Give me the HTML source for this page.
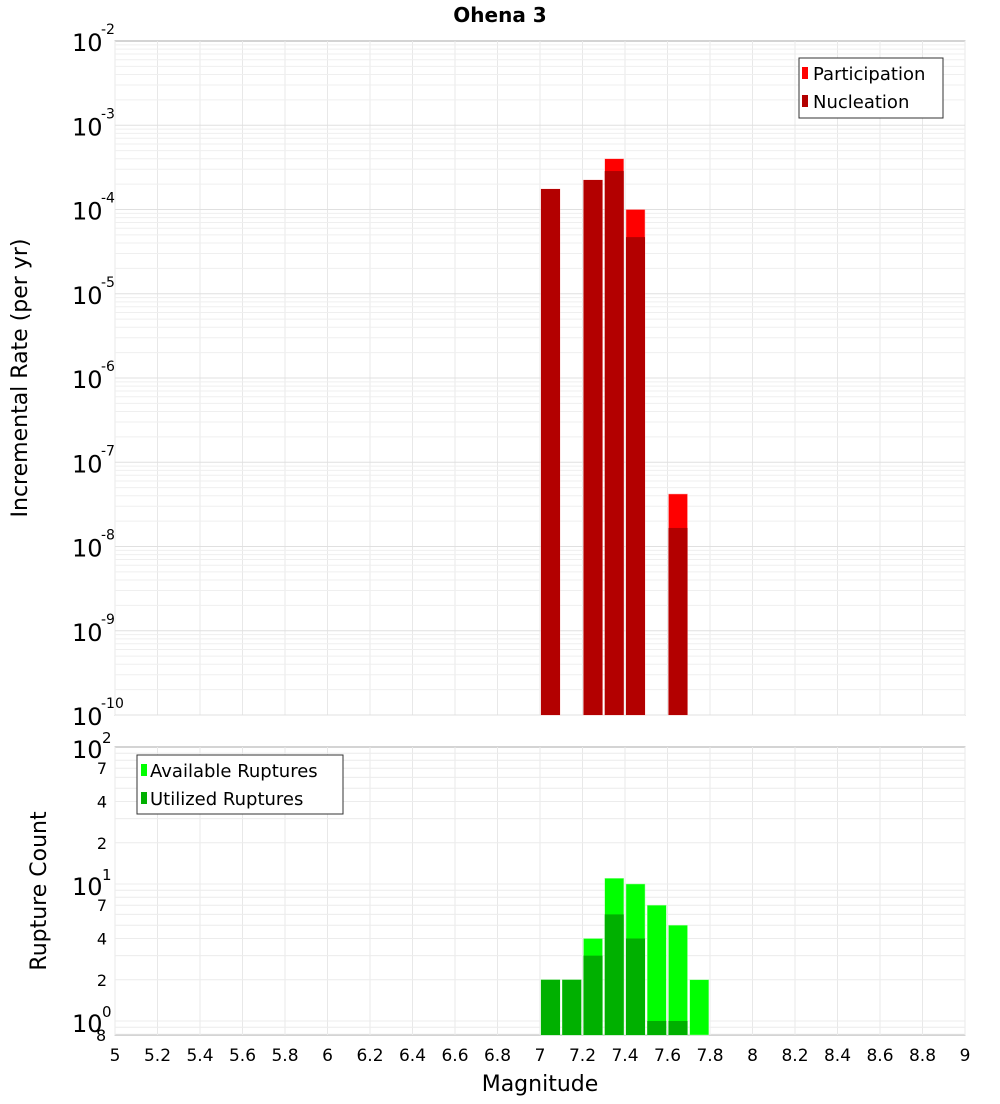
<!DOCTYPE html>
<html><head><meta charset="utf-8"><style>
body{margin:0;background:#fff;font-family:"DejaVu Sans","Liberation Sans",sans-serif}
svg text{font-family:"DejaVu Sans","Liberation Sans",sans-serif}
</style></head><body>
<svg id="c" width="1000" height="1100" xmlns="http://www.w3.org/2000/svg">
<text x="500" y="22" text-anchor="middle" font-size="20" font-weight="bold">Ohena 3</text>
<rect x="115" y="41" width="850" height="674" fill="#fff" stroke="#aaa"/>
<rect x="115" y="747" width="850" height="288" fill="#fff" stroke="#aaa"/>
<g id="grid"></g><g id="bars"></g><g id="axes"></g>
<text transform="translate(27,378) rotate(-90)" text-anchor="middle" font-size="22">Incremental Rate (per yr)</text>
<text transform="translate(46,891) rotate(-90)" text-anchor="middle" font-size="22">Rupture Count</text>
<text x="540" y="1091" text-anchor="middle" font-size="22">Magnitude</text>
<g>
<rect x="799" y="58" width="144" height="60" fill="#fff" stroke="#333"/>
<rect x="802" y="67" width="6" height="12" fill="#ff0000"/>
<text x="813" y="80" font-size="18">Participation</text>
<rect x="802" y="95" width="6" height="12" fill="#b30000"/>
<text x="813" y="108" font-size="18">Nucleation</text>
</g>
<g>
<rect x="137" y="755" width="206" height="59" fill="#fff" stroke="#333"/>
<rect x="141" y="764" width="6" height="12" fill="#00ff00"/>
<text x="150" y="777" font-size="18">Available Ruptures</text>
<rect x="141" y="792" width="6" height="12" fill="#00b000"/>
<text x="150" y="805" font-size="18">Utilized Ruptures</text>
</g>
</svg>
<script>
const mags=[7.0,7.1,7.2,7.3,7.4,7.5,7.6,7.7];
const participation=[1.75e-4,0,2.24e-4,4.0e-4,1.0e-4,0,4.2e-8,0];
const nucleation=[1.75e-4,0,2.24e-4,2.86e-4,4.7e-5,0,1.66e-8,0];
const available=[2,2,4,11,10,7,5,2];
const utilized=[2,2,3,6,4,1,1,0];
const xTicks=[5,5.2,5.4,5.6,5.8,6,6.2,6.4,6.6,6.8,7,7.2,7.4,7.6,7.8,8,8.2,8.4,8.6,8.8,9];
const rateExps=[-10,-9,-8,-7,-6,-5,-4,-3,-2];
const countTicks=[2,4,7,20,40,70];
const NS="http://www.w3.org/2000/svg";
const X=m=>115+(m-5)*212.5;
const YR=v=>715-(Math.log10(v)+10)*84.25;
const YC=v=>1021-Math.log10(v)*137;
function el(t,a,p){const e=document.createElementNS(NS,t);for(const k in a)e.setAttribute(k,a[k]);document.getElementById(p).appendChild(e);return e;}
// grids
for(const t of xTicks){const x=X(t);
const g1=el('line',{x1:x,x2:x,y1:41,y2:715,stroke:'#e8e8e8'},'grid');


el('line',{x1:x,x2:x,y1:747,y2:1035,stroke:'#e8e8e8'},'grid');
const tl=el('text',{x:x,y:1061,'text-anchor':'middle','font-size':'17'},'axes');tl.textContent=String(t);

}
for(let e=-10;e<-2;e++)for(let k=1;k<10;k++){const y=YR(k*Math.pow(10,e));
const l=el('line',{x1:115,x2:965,y1:y,y2:y,stroke:k==1?'#e0e0e0':'#efefef'},'grid');

}
for(const e of rateExps){const y=YR(Math.pow(10,e));
const t=el('text',{x:72,y:y+10,'font-size':'24'},'axes');t.textContent='10';


const s=el('text',{x:101,y:y-7,'font-size':'14'},'axes');s.textContent=String(e);}
for(let e=-1;e<2;e++)for(let k=1;k<10;k++){const v=k*Math.pow(10,e);if(v<0.8||v>100)continue;const y=YC(v);
el('line',{x1:115,x2:965,y1:y,y2:y,stroke:'#ececec'},'grid');}
for(const v of countTicks){const t=el('text',{x:107,y:YC(v)+6,'text-anchor':'end','font-size':'16'},'axes');t.textContent=String(v%10==0?v/10:v);

}
[[100,'2'],[10,'1'],[1,'0']].forEach(([v,s])=>{const y=YC(v);const t=el('text',{x:72,y:y+11,'font-size':'24'},'axes');t.textContent='10';


const u=el('text',{x:102,y:y-4,'font-size':'15'},'axes');u.textContent=s;});
const e8=el('text',{x:96,y:1041,'font-size':'16'},'axes');e8.textContent='8';
// bars
mags.forEach((m,i)=>{const x=X(m)+1,w=19;
if(participation[i]>0){const y=YR(participation[i]);const r=el('rect',{x:x,y:y,width:w,height:715-y,fill:'#ff0000',stroke:'#ffb0b0','stroke-width':0.5},'bars');

}
if(nucleation[i]>0){const y=YR(nucleation[i]);const r=el('rect',{x:x,y:y,width:w,height:715-y,fill:'#b30000'},'bars');

}
if(available[i]>0){const y=YC(available[i]);const r=el('rect',{x:x,y:y,width:w,height:1035-y,fill:'#00ff00',stroke:'#a0ffa0','stroke-width':0.5},'bars');

}
if(utilized[i]>0){const y=YC(utilized[i]);const r=el('rect',{x:x,y:y,width:w,height:1035-y,fill:'#00b000'},'bars');

}
});
</script>
</body></html>
